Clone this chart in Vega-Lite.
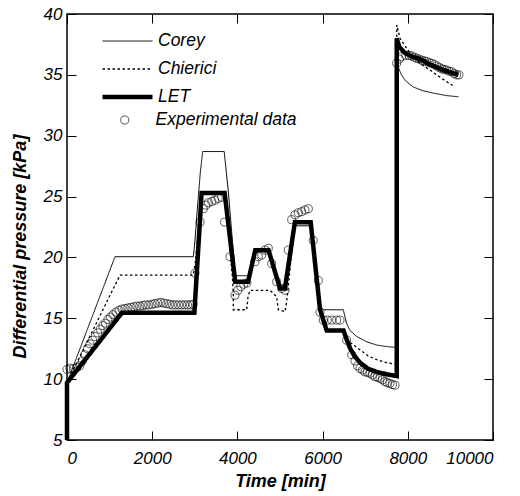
{
  "$schema": "https://vega.github.io/schema/vega-lite/v6.json",
  "autosize": "none",
  "padding": {"left": 67, "top": 14, "right": 27, "bottom": 56},
  "width": 426,
  "height": 426,
  "background": "white",
  "config": {
    "font": "Liberation Sans",
    "view": {"stroke": "black", "strokeWidth": 1.5},
    "axis": {
      "domain": false,
      "grid": false,
      "tickColor": "black",
      "tickSize": -9,
      "tickWidth": 1,
      "labelColor": "black",
      "labelFont": "Liberation Sans",
      "labelFontStyle": "italic",
      "labelFontSize": 17,
      "titleColor": "black",
      "titleFont": "Liberation Sans",
      "titleFontStyle": "italic",
      "titleFontWeight": "bold",
      "titleFontSize": 18
    }
  },
  "datasets": {
    "curves": [
      {"series": "LET", "i": 1, "t": 0, "p": 5},
      {"series": "LET", "i": 2, "t": 0, "p": 9.7},
      {"series": "LET", "i": 3, "t": 1290, "p": 15.45},
      {"series": "LET", "i": 4, "t": 2990, "p": 15.45},
      {"series": "LET", "i": 5, "t": 3160, "p": 25.3},
      {"series": "LET", "i": 6, "t": 3700, "p": 25.3},
      {"series": "LET", "i": 7, "t": 3950, "p": 18.0},
      {"series": "LET", "i": 8, "t": 4250, "p": 18.0},
      {"series": "LET", "i": 9, "t": 4420, "p": 20.6},
      {"series": "LET", "i": 10, "t": 4730, "p": 20.6},
      {"series": "LET", "i": 11, "t": 5000, "p": 17.45},
      {"series": "LET", "i": 12, "t": 5115, "p": 17.45},
      {"series": "LET", "i": 13, "t": 5350, "p": 22.9},
      {"series": "LET", "i": 14, "t": 5720, "p": 22.9},
      {"series": "LET", "i": 15, "t": 5940, "p": 15.7},
      {"series": "LET", "i": 16, "t": 6096, "p": 14.0},
      {"series": "LET", "i": 17, "t": 6490, "p": 14.0},
      {"series": "LET", "i": 18, "t": 6560, "p": 13.3},
      {"series": "LET", "i": 19, "t": 6650, "p": 12.5},
      {"series": "LET", "i": 20, "t": 6750, "p": 11.9},
      {"series": "LET", "i": 21, "t": 6880, "p": 11.35},
      {"series": "LET", "i": 22, "t": 7070, "p": 10.85},
      {"series": "LET", "i": 23, "t": 7270, "p": 10.6},
      {"series": "LET", "i": 24, "t": 7500, "p": 10.4},
      {"series": "LET", "i": 25, "t": 7740, "p": 10.25},
      {"series": "LET", "i": 26, "t": 7740, "p": 38.0},
      {"series": "LET", "i": 27, "t": 7800, "p": 37.3},
      {"series": "LET", "i": 28, "t": 7934, "p": 36.8},
      {"series": "LET", "i": 29, "t": 8100, "p": 36.5},
      {"series": "LET", "i": 30, "t": 8286, "p": 36.3},
      {"series": "LET", "i": 31, "t": 8500, "p": 35.9},
      {"series": "LET", "i": 32, "t": 8756, "p": 35.5},
      {"series": "LET", "i": 33, "t": 9000, "p": 35.2},
      {"series": "LET", "i": 34, "t": 9185, "p": 35.0},
      {"series": "Corey", "i": 1, "t": 0, "p": 9.7},
      {"series": "Corey", "i": 2, "t": 1127, "p": 20.06},
      {"series": "Corey", "i": 3, "t": 2965, "p": 20.06},
      {"series": "Corey", "i": 4, "t": 3000, "p": 21.2},
      {"series": "Corey", "i": 5, "t": 3060, "p": 24.0},
      {"series": "Corey", "i": 6, "t": 3130, "p": 27.0},
      {"series": "Corey", "i": 7, "t": 3185, "p": 28.7},
      {"series": "Corey", "i": 8, "t": 3690, "p": 28.7},
      {"series": "Corey", "i": 9, "t": 3790, "p": 25.3},
      {"series": "Corey", "i": 10, "t": 3950, "p": 18.5},
      {"series": "Corey", "i": 11, "t": 4250, "p": 18.5},
      {"series": "Corey", "i": 12, "t": 4420, "p": 20.7},
      {"series": "Corey", "i": 13, "t": 4720, "p": 20.7},
      {"series": "Corey", "i": 14, "t": 5000, "p": 17.7},
      {"series": "Corey", "i": 15, "t": 5110, "p": 17.7},
      {"series": "Corey", "i": 16, "t": 5350, "p": 22.6},
      {"series": "Corey", "i": 17, "t": 5720, "p": 22.6},
      {"series": "Corey", "i": 18, "t": 5940, "p": 16.0},
      {"series": "Corey", "i": 19, "t": 6017, "p": 15.7},
      {"series": "Corey", "i": 20, "t": 6486, "p": 15.7},
      {"series": "Corey", "i": 21, "t": 6560, "p": 14.6},
      {"series": "Corey", "i": 22, "t": 6643, "p": 14.0},
      {"series": "Corey", "i": 23, "t": 6800, "p": 13.5},
      {"series": "Corey", "i": 24, "t": 7035, "p": 13.07},
      {"series": "Corey", "i": 25, "t": 7270, "p": 12.8},
      {"series": "Corey", "i": 26, "t": 7500, "p": 12.68},
      {"series": "Corey", "i": 27, "t": 7740, "p": 12.6},
      {"series": "Corey", "i": 28, "t": 7740, "p": 37.5},
      {"series": "Corey", "i": 29, "t": 7780, "p": 35.6},
      {"series": "Corey", "i": 30, "t": 7850, "p": 35.0},
      {"series": "Corey", "i": 31, "t": 7950, "p": 34.5},
      {"series": "Corey", "i": 32, "t": 8130, "p": 34.0},
      {"series": "Corey", "i": 33, "t": 8350, "p": 33.7},
      {"series": "Corey", "i": 34, "t": 8600, "p": 33.5},
      {"series": "Corey", "i": 35, "t": 8900, "p": 33.3},
      {"series": "Corey", "i": 36, "t": 9190, "p": 33.2},
      {"series": "Chierici", "i": 1, "t": 0, "p": 9.7},
      {"series": "Chierici", "i": 2, "t": 1244, "p": 18.55},
      {"series": "Chierici", "i": 3, "t": 2960, "p": 18.55},
      {"series": "Chierici", "i": 4, "t": 3010, "p": 19.5},
      {"series": "Chierici", "i": 5, "t": 3160, "p": 25.3},
      {"series": "Chierici", "i": 6, "t": 3700, "p": 25.3},
      {"series": "Chierici", "i": 7, "t": 3880, "p": 18.5},
      {"series": "Chierici", "i": 8, "t": 3904, "p": 16.9},
      {"series": "Chierici", "i": 9, "t": 3904, "p": 15.7},
      {"series": "Chierici", "i": 10, "t": 4218, "p": 15.7},
      {"series": "Chierici", "i": 11, "t": 4250, "p": 16.8},
      {"series": "Chierici", "i": 12, "t": 4296, "p": 17.3},
      {"series": "Chierici", "i": 13, "t": 4765, "p": 17.3},
      {"series": "Chierici", "i": 14, "t": 4922, "p": 16.77},
      {"series": "Chierici", "i": 15, "t": 4961, "p": 15.7},
      {"series": "Chierici", "i": 16, "t": 5117, "p": 15.54},
      {"series": "Chierici", "i": 17, "t": 5157, "p": 16.4},
      {"series": "Chierici", "i": 18, "t": 5350, "p": 22.9},
      {"series": "Chierici", "i": 19, "t": 5720, "p": 22.9},
      {"series": "Chierici", "i": 20, "t": 5940, "p": 15.7},
      {"series": "Chierici", "i": 21, "t": 6096, "p": 14.0},
      {"series": "Chierici", "i": 22, "t": 6490, "p": 14.0},
      {"series": "Chierici", "i": 23, "t": 6560, "p": 13.5},
      {"series": "Chierici", "i": 24, "t": 6650, "p": 13.0},
      {"series": "Chierici", "i": 25, "t": 6880, "p": 12.4},
      {"series": "Chierici", "i": 26, "t": 7070, "p": 11.9},
      {"series": "Chierici", "i": 27, "t": 7270, "p": 11.6},
      {"series": "Chierici", "i": 28, "t": 7500, "p": 11.35},
      {"series": "Chierici", "i": 29, "t": 7740, "p": 11.2},
      {"series": "Chierici", "i": 30, "t": 7740, "p": 39.1},
      {"series": "Chierici", "i": 31, "t": 7817, "p": 38.0},
      {"series": "Chierici", "i": 32, "t": 8052, "p": 36.77},
      {"series": "Chierici", "i": 33, "t": 8300, "p": 35.9},
      {"series": "Chierici", "i": 34, "t": 8521, "p": 35.4},
      {"series": "Chierici", "i": 35, "t": 8800, "p": 34.7},
      {"series": "Chierici", "i": 36, "t": 9108, "p": 34.0}
    ],
    "exp": [
      {"t": 0, "p": 10.8}, {"t": 70, "p": 10.9}, {"t": 150, "p": 10.85}, {"t": 230, "p": 10.95},
      {"t": 300, "p": 11.1}, {"t": 360, "p": 11.5}, {"t": 420, "p": 12.0}, {"t": 480, "p": 12.5},
      {"t": 540, "p": 12.9}, {"t": 600, "p": 13.2}, {"t": 660, "p": 13.5}, {"t": 720, "p": 13.8},
      {"t": 780, "p": 14.1}, {"t": 840, "p": 14.4}, {"t": 900, "p": 14.6}, {"t": 960, "p": 14.9},
      {"t": 1020, "p": 15.1}, {"t": 1080, "p": 15.3}, {"t": 1150, "p": 15.5}, {"t": 1220, "p": 15.65},
      {"t": 1290, "p": 15.75}, {"t": 1360, "p": 15.8}, {"t": 1430, "p": 15.85}, {"t": 1500, "p": 15.9},
      {"t": 1570, "p": 15.95}, {"t": 1640, "p": 16.0}, {"t": 1710, "p": 16.0}, {"t": 1780, "p": 16.05},
      {"t": 1850, "p": 16.1}, {"t": 1920, "p": 16.1}, {"t": 1990, "p": 16.15}, {"t": 2060, "p": 16.2},
      {"t": 2130, "p": 16.25}, {"t": 2200, "p": 16.3}, {"t": 2270, "p": 16.25}, {"t": 2340, "p": 16.2},
      {"t": 2410, "p": 16.15}, {"t": 2480, "p": 16.1}, {"t": 2550, "p": 16.1}, {"t": 2620, "p": 16.1},
      {"t": 2690, "p": 16.1}, {"t": 2760, "p": 16.1}, {"t": 2830, "p": 16.1}, {"t": 2900, "p": 16.1},
      {"t": 2960, "p": 16.15}, {"t": 3005, "p": 18.7}, {"t": 3122, "p": 22.9}, {"t": 3200, "p": 24.0},
      {"t": 3260, "p": 24.3}, {"t": 3320, "p": 24.5}, {"t": 3400, "p": 24.6}, {"t": 3470, "p": 24.7},
      {"t": 3550, "p": 24.85}, {"t": 3630, "p": 24.95}, {"t": 3700, "p": 22.9}, {"t": 3826, "p": 20.06},
      {"t": 3944, "p": 16.9}, {"t": 4010, "p": 17.3}, {"t": 4080, "p": 17.6}, {"t": 4150, "p": 17.8},
      {"t": 4220, "p": 17.9}, {"t": 4413, "p": 19.65}, {"t": 4491, "p": 20.06}, {"t": 4570, "p": 20.2},
      {"t": 4648, "p": 20.6}, {"t": 4726, "p": 20.75}, {"t": 4804, "p": 19.5}, {"t": 4922, "p": 18.0},
      {"t": 5040, "p": 17.46}, {"t": 5117, "p": 17.3}, {"t": 5195, "p": 20.6}, {"t": 5274, "p": 23.1},
      {"t": 5352, "p": 23.5}, {"t": 5430, "p": 23.67}, {"t": 5509, "p": 23.76}, {"t": 5587, "p": 23.9},
      {"t": 5665, "p": 24.0}, {"t": 5780, "p": 21.4}, {"t": 5900, "p": 18.1}, {"t": 5939, "p": 15.5},
      {"t": 6017, "p": 14.85}, {"t": 6110, "p": 14.85}, {"t": 6213, "p": 14.85}, {"t": 6330, "p": 14.85},
      {"t": 6408, "p": 14.85}, {"t": 6565, "p": 13.2}, {"t": 6683, "p": 12.0}, {"t": 6760, "p": 11.5},
      {"t": 6820, "p": 11.1}, {"t": 6878, "p": 10.88}, {"t": 6940, "p": 10.75}, {"t": 6995, "p": 10.6},
      {"t": 7055, "p": 10.55}, {"t": 7113, "p": 10.48}, {"t": 7170, "p": 10.35}, {"t": 7230, "p": 10.2},
      {"t": 7290, "p": 10.15}, {"t": 7347, "p": 10.07}, {"t": 7405, "p": 9.95}, {"t": 7465, "p": 9.8},
      {"t": 7520, "p": 9.7}, {"t": 7582, "p": 9.65}, {"t": 7640, "p": 9.55}, {"t": 7700, "p": 9.5},
      {"t": 7739, "p": 35.95}, {"t": 7800, "p": 36.3}, {"t": 7856, "p": 36.5}, {"t": 7950, "p": 36.6},
      {"t": 8030, "p": 36.6}, {"t": 8091, "p": 36.55}, {"t": 8150, "p": 36.45}, {"t": 8208, "p": 36.36},
      {"t": 8270, "p": 36.3}, {"t": 8326, "p": 36.2}, {"t": 8385, "p": 36.15}, {"t": 8443, "p": 36.1},
      {"t": 8500, "p": 36.0}, {"t": 8560, "p": 35.95}, {"t": 8620, "p": 35.85}, {"t": 8678, "p": 35.73},
      {"t": 8740, "p": 35.6}, {"t": 8795, "p": 35.5}, {"t": 8850, "p": 35.45}, {"t": 8912, "p": 35.4},
      {"t": 8970, "p": 35.3}, {"t": 9030, "p": 35.26}, {"t": 9090, "p": 35.1}, {"t": 9147, "p": 35.0},
      {"t": 9200, "p": 35.0}
    ]
  },
  "resolve": {"axis": {"x": "independent", "y": "independent"}},
  "layer": [
    {
      "data": {"name": "curves"},
      "mark": {"type": "line", "color": "black", "strokeJoin": "miter"},
      "encoding": {
        "x": {
          "field": "t", "type": "quantitative",
          "scale": {"domain": [0, 10000], "nice": false},
          "axis": {"orient": "bottom", "values": [0, 2000, 4000, 6000, 8000, 10000], "format": "d", "title": "Time [min]", "labelPadding": 19, "titlePadding": 6}
        },
        "y": {
          "field": "p", "type": "quantitative",
          "scale": {"domain": [5, 40], "nice": false, "zero": false},
          "axis": {"orient": "left", "values": [5, 10, 15, 20, 25, 30, 35, 40], "format": "d", "title": "Differential pressure [kPa]", "labelPadding": 14, "titleY": 232, "titleX": -47, "titleBaseline": "middle"}
        },
        "strokeDash": {
          "field": "series", "type": "nominal",
          "scale": {"domain": ["Corey", "Chierici", "LET"], "range": [[1, 0], [2.5, 2.5], [1, 0]]},
          "legend": {"orient": "none", "legendX": 33, "legendY": 19, "title": null, "symbolType": "stroke", "symbolSize": 2500, "clipHeight": 16, "rowPadding": 10, "labelOffset": 3, "labelFontSize": 17.5, "labelFontStyle": "italic", "labelFont": "Liberation Sans", "labelColor": "black", "symbolStrokeColor": "black", "padding": 0}
        },
        "strokeWidth": {
          "field": "series", "type": "nominal",
          "scale": {"type": "ordinal", "domain": ["Corey", "Chierici", "LET"], "range": [1, 1.3, 4.5]},
          "legend": {"orient": "none", "legendX": 33, "legendY": 19, "title": null, "symbolType": "stroke", "symbolSize": 2500, "clipHeight": 16, "rowPadding": 10, "labelOffset": 3, "labelFontSize": 17.5, "labelFontStyle": "italic", "labelFont": "Liberation Sans", "labelColor": "black", "symbolStrokeColor": "black", "padding": 0}
        },
        "order": {"field": "i", "type": "quantitative"}
      }
    },
    {
      "data": {"name": "exp"},
      "mark": {"type": "point", "shape": "circle", "filled": false, "color": "black", "strokeWidth": 0.9, "size": 65},
      "encoding": {
        "x": {
          "field": "t", "type": "quantitative",
          "axis": {"orient": "top", "values": [0, 2000, 4000, 6000, 8000, 10000], "labels": false, "title": null}
        },
        "y": {
          "field": "p", "type": "quantitative",
          "axis": {"orient": "right", "values": [5, 10, 15, 20, 25, 30, 35, 40], "labels": false, "title": null}
        },
        "shape": {
          "datum": "Experimental data", "type": "nominal",
          "scale": {"range": ["circle"]},
          "legend": {"orient": "none", "legendX": 49, "legendY": 98, "title": null, "symbolSize": 65, "clipHeight": 16, "labelOffset": 22, "labelFontSize": 17.5, "labelFontStyle": "italic", "labelFont": "Liberation Sans", "labelColor": "black", "symbolStrokeColor": "black", "symbolFillColor": "transparent", "symbolStrokeWidth": 0.9, "padding": 0}
        }
      }
    }
  ]
}
